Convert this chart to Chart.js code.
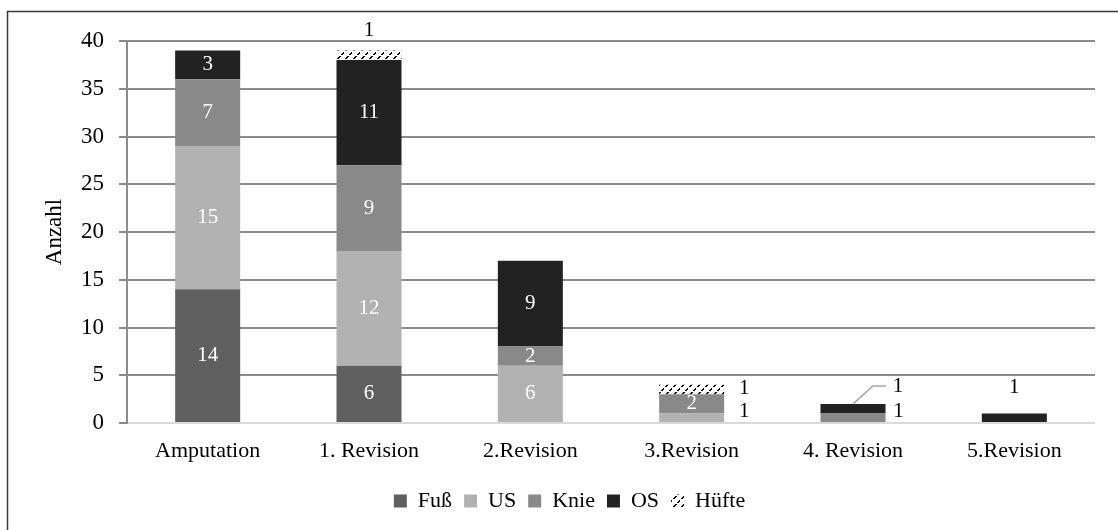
<!DOCTYPE html>
<html lang="de">
<head>
<meta charset="utf-8">
<title>Amputationen und Revisionen nach Höhe</title>
<script src="https://cdn.jsdelivr.net/npm/chart.js@4/dist/chart.umd.min.js"></script>
<style>
  html, body { margin: 0; padding: 0; background: #ffffff; }
  #wrap { width: 1118px; height: 530px; position: relative; }
</style>
</head>
<body>
<div id="wrap"><canvas id="chart" width="1118" height="530"></canvas></div>
<script>
// Categories along the x axis
const categories = ['Amputation', '1. Revision', '2.Revision', '3.Revision', '4. Revision', '5.Revision'];

// Counts per amputation level (stacked)
const fuss   = [14,  6, 0, 0, 0, 0];
const us     = [15, 12, 6, 1, 0, 0];
const knie   = [ 7,  9, 2, 2, 1, 0];
const os     = [ 3, 11, 9, 0, 1, 1];
const huefte = [ 0,  1, 0, 1, 0, 0];

// Y axis ticks
const yMin = 0;
const yMax = 40;
const yStep = 5;

const seriesNames = ['Fuß', 'US', 'Knie', 'OS', 'Hüfte'];

// Labels that sit outside their segment: key = "categoryIndex|datasetIndex"
const outsideLabels = {
  '1|4': { mode: 'above', dy: -20 },
  '3|1': { mode: 'right', dx: 20, dy: -6 },
  '3|4': { mode: 'right', dx: 20, dy: -1 },
  '4|2': { mode: 'right', dx: 13, dy: -6 },
  '4|3': { mode: 'leader' },
  '5|3': { mode: 'above', dy: -26 }
};

const FONT = "'Liberation Serif', 'DejaVu Serif', 'Times New Roman', serif";

// Hatched fill for the hip segment: short upward diagonal dashes
function makeHatch() {
  const t = document.createElement('canvas');
  t.width = 8; t.height = 8;
  const c = t.getContext('2d');
  c.fillStyle = '#ffffff';
  c.fillRect(0, 0, 8, 8);
  c.fillStyle = '#000000';
  for (let i = 0; i < 3; i++) {
    c.fillRect(3 - i, i, 2, 1);
    c.fillRect(7 - i, 4 + i, 2, 1);
  }
  return c.createPattern(t, 'repeat');
}
const hatch = makeHatch();

// White background and the frame around the chart
const framePlugin = {
  id: 'frame',
  beforeDraw(chart) {
    const ctx = chart.ctx;
    ctx.save();
    ctx.fillStyle = '#ffffff';
    ctx.fillRect(0, 0, chart.width, chart.height);
    ctx.strokeStyle = '#3a3a3a';
    ctx.lineWidth = 1.5;
    ctx.strokeRect(7.5, 11.5, chart.width + 20, chart.height + 20);
    ctx.restore();
  }
};

// Center the legend row on the whole frame rather than on the plot box
const legendShift = {
  id: 'legendShift',
  afterLayout(chart) {
    if (chart.legend) {
      chart.legend.left += 22;
      chart.legend.right += 22;
    }
  }
};

// Value labels for every non-empty segment
const valueLabels = {
  id: 'valueLabels',
  afterDatasetsDraw(chart) {
    const ctx = chart.ctx;
    ctx.save();
    ctx.font = '21px ' + FONT;
    ctx.textBaseline = 'middle';
    ctx.textAlign = 'center';
    chart.data.datasets.forEach((ds, di) => {
      const meta = chart.getDatasetMeta(di);
      meta.data.forEach((bar, ci) => {
        const v = ds.data[ci];
        if (!v) return;
        const p = bar.getProps(['x', 'y', 'base', 'width'], true);
        const top = Math.min(p.y, p.base);
        const bottom = Math.max(p.y, p.base);
        const spot = outsideLabels[ci + '|' + di];
        const text = String(v);
        if (!spot) {
          ctx.fillStyle = '#ffffff';
          ctx.fillText(text, p.x, (top + bottom) / 2);
        } else if (spot.mode === 'above') {
          ctx.fillStyle = '#000000';
          ctx.fillText(text, p.x, top + spot.dy);
        } else if (spot.mode === 'right') {
          ctx.fillStyle = '#000000';
          ctx.fillText(text, p.x + p.width / 2 + spot.dx, (top + bottom) / 2 + spot.dy);
        } else if (spot.mode === 'leader') {
          ctx.strokeStyle = '#a6a6a6';
          ctx.lineWidth = 1.5;
          ctx.beginPath();
          ctx.moveTo(p.x, top);
          ctx.lineTo(p.x + 20, top - 18);
          ctx.lineTo(p.x + 33, top - 18);
          ctx.stroke();
          ctx.fillStyle = '#000000';
          ctx.fillText(text, p.x + 45, top - 17);
        }
      });
    });
    ctx.restore();
  }
};

const fills = ['#5f5f5f', '#b2b2b2', '#898989', '#222222', hatch];
const seriesData = [fuss, us, knie, os, huefte];

Chart.defaults.font.family = FONT;
Chart.defaults.font.size = 22;
Chart.defaults.color = '#000000';

new Chart(document.getElementById('chart'), {
  type: 'bar',
  data: {
    labels: categories,
    datasets: seriesNames.map((name, i) => ({
      label: name,
      data: seriesData[i],
      backgroundColor: fills[i],
      borderWidth: 0,
      categoryPercentage: 1,
      barPercentage: 0.403
    }))
  },
  options: {
    responsive: false,
    animation: false,
    devicePixelRatio: 1,
    layout: { padding: { top: 41, right: 23, bottom: 8, left: 0 } },
    plugins: {
      tooltip: { enabled: false },
      legend: {
        position: 'bottom',
        labels: {
          boxWidth: 13,
          boxHeight: 13,
          padding: 12,
          font: { size: 22, family: FONT },
          color: '#000000'
        }
      }
    },
    scales: {
      x: {
        stacked: true,
        grid: { display: false, drawTicks: false },
        border: { display: false },
        ticks: { padding: 15, font: { size: 22 }, color: '#000000' },
        afterFit(scale) { scale.height = 55; }
      },
      y: {
        stacked: true,
        min: yMin,
        max: yMax,
        ticks: { stepSize: yStep, padding: 15, font: { size: 23 }, color: '#000000' },
        grid: {
          color: (ctx) => (ctx.tick && ctx.tick.value === 0 ? '#d9d9d9' : '#8c8c8c'),
          tickColor: '#8c8c8c',
          lineWidth: 2,
          tickLength: 8
        },
        border: { display: true, color: '#8c8c8c', width: 2 },
        title: {
          display: true,
          text: 'Anzahl',
          font: { size: 23 },
          color: '#000000',
          padding: { top: 41, bottom: 0 }
        },
        afterFit(scale) { scale.width = 127; }
      }
    }
  },
  plugins: [framePlugin, legendShift, valueLabels]
});
</script>
</body>
</html>
